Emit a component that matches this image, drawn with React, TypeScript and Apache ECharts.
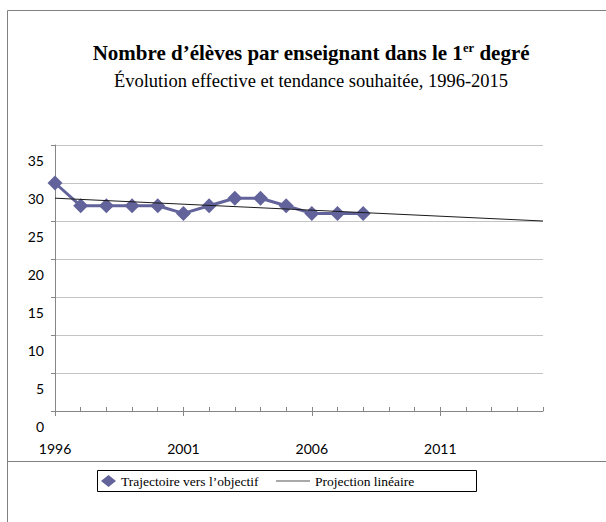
import React, { useEffect, useRef } from "react";
import * as echarts from "echarts";

const years = [
  "1996", "1997", "1998", "1999", "2000", "2001", "2002", "2003", "2004", "2005",
  "2006", "2007", "2008", "2009", "2010", "2011", "2012", "2013", "2014", "2015",
];
const trajectoryValues = [30, 27, 27, 27, 27, 26, 27, 28, 28, 27, 26, 26, 26];
const projectionYears = ["1996", "2015"];
const projectionValues = [28.0, 25.0];
const yTicks = { min: 0, max: 35, interval: 5 };

const titleMain = "Nombre d’élèves par enseignant dans le 1";
const titleSup = "er";
const titleEnd = " degré";
const subtitle = "Évolution effective et tendance souhaitée, 1996-2015";
const seriesNames = ["Trajectoire vers l’objectif", "Projection linéaire"];

const SERIF = "'Liberation Serif', 'Times New Roman', serif";
const SANS = "Lato, 'Liberation Sans', sans-serif";
const PURPLE = "#63639c";

export default function App() {
  const ref = useRef<HTMLDivElement>(null);

  useEffect(() => {
    document.body.style.margin = "0";
    if (!ref.current) return;
    const chart = echarts.init(ref.current, null, { renderer: "svg" });
    const option: any = {
      animation: false,
      backgroundColor: "#ffffff",
      title: {
        text: `{a|${titleMain}}{sup|${titleSup}}{a|${titleEnd}}`,
        subtext: subtitle,
        left: 311,
        textAlign: "center",
        top: 41,
        padding: 0,
        itemGap: 8,
        textStyle: {
          fontFamily: SERIF,
          fontWeight: "bold",
          color: "#000",
          rich: {
            a: { fontFamily: SERIF, fontWeight: "bold", fontSize: 21, lineHeight: 23, color: "#000" },
            sup: { fontFamily: SERIF, fontWeight: "bold", fontSize: 12.5, lineHeight: 12, verticalAlign: "top", color: "#000" },
          },
        },
        subtextStyle: { fontFamily: SERIF, fontSize: 18.5, lineHeight: 19, color: "#000" },
      },
      legend: [
        {
          data: [{ name: seriesNames[0], icon: "diamond" }],
          left: 101,
          top: 474,
          padding: 0,
          itemWidth: 15,
          itemHeight: 12,
          textStyle: { fontFamily: SERIF, fontSize: 13.5, lineHeight: 14, color: "#000" },
        },
        {
          data: [{ name: seriesNames[1], icon: "rect" }],
          left: 276,
          top: 474,
          padding: 0,
          itemWidth: 34,
          itemHeight: 1,
          itemStyle: { color: "#555" },
          textStyle: { fontFamily: SERIF, fontSize: 13.5, lineHeight: 14, color: "#000" },
        },
      ],
      grid: { left: 55, right: 63, top: 145, bottom: 111, containLabel: false },
      xAxis: [
        {
          type: "category",
          data: years,
          boundaryGap: false,
          position: "bottom",
          axisLine: { show: true, lineStyle: { color: "#868686", width: 1 } },
          axisTick: { show: true, interval: 4, inside: false, length: 5, lineStyle: { color: "#868686" } },
          axisLabel: { interval: 4, margin: 30, fontFamily: SANS, fontSize: 14, color: "#000" },
          splitLine: { show: false },
        },
        {
          type: "category",
          data: years,
          boundaryGap: false,
          position: "bottom",
          axisLine: { show: false },
          axisTick: { show: true, interval: 0, inside: true, length: 4, lineStyle: { color: "#868686" } },
          axisLabel: { show: false },
          splitLine: { show: false },
        },
      ],
      yAxis: {
        type: "value",
        min: yTicks.min,
        max: yTicks.max,
        interval: yTicks.interval,
        axisLine: { show: true, lineStyle: { color: "#868686", width: 1 } },
        axisTick: { show: true, length: 4, lineStyle: { color: "#868686" } },
        axisLabel: {
          margin: 11,
          fontFamily: SANS,
          fontSize: 14,
          color: "#000",
          verticalAlign: "top",
          padding: [8, 0, 0, 0],
        },
        splitLine: { show: true, lineStyle: { color: "#c4c4c4", width: 1 } },
      },
      series: [
        {
          name: seriesNames[0],
          type: "line",
          data: trajectoryValues,
          symbol: "diamond",
          symbolSize: 15,
          itemStyle: { color: PURPLE },
          lineStyle: { color: PURPLE, width: 3 },
          z: 2,
        },
        {
          name: seriesNames[1],
          type: "line",
          data: projectionYears.map((y, i) => [y, projectionValues[i]]),
          symbol: "none",
          itemStyle: { color: "#1a1a1a" },
          lineStyle: { color: "#1a1a1a", width: 1 },
          z: 3,
        },
      ],
      graphic: [
        {
          type: "rect",
          shape: { x: 7.5, y: 10.5, width: 700, height: 700 },
          style: { fill: "none", stroke: "#808080", lineWidth: 1 },
          silent: true,
          z: -10,
        },
        {
          type: "line",
          shape: { x1: 7.5, y1: 461.5, x2: 606, y2: 461.5 },
          style: { stroke: "#808080", lineWidth: 1 },
          silent: true,
        },
        {
          type: "rect",
          shape: { x: 97.5, y: 470.5, width: 379, height: 21 },
          style: { fill: "none", stroke: "#000", lineWidth: 1 },
          silent: true,
        },
      ],
    };
    chart.setOption(option);
    return () => chart.dispose();
  }, []);

  return <div ref={ref} style={{ width: 606, height: 522 }} />;
}
